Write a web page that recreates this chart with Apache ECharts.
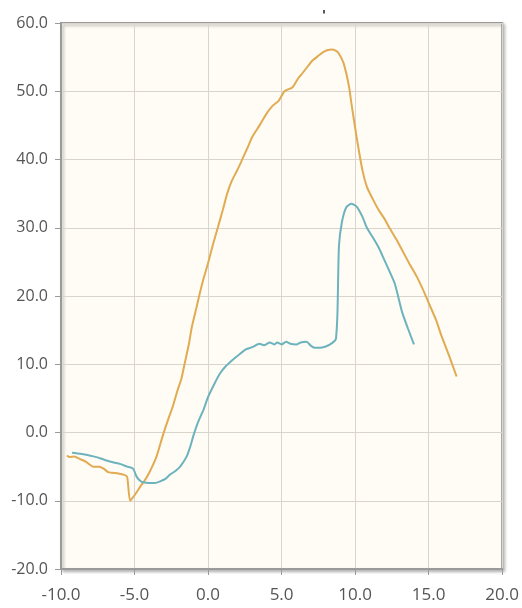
<!DOCTYPE html>
<html>
<head>
<meta charset="utf-8">
<title>Line chart</title>
<script src="https://cdn.jsdelivr.net/npm/echarts@6/dist/echarts.min.js"></script>
<style>
  html, body { margin: 0; padding: 0; background: #ffffff; }
  #chart { width: 522px; height: 608px; }
</style>
</head>
<body>
<div id="chart"></div>
<script>
// Axis ranges and tick spacing
const xRange = { min: -10, max: 20, step: 5 };
const yRange = { min: -20, max: 60, step: 10 };

// Orange curve: [x, y]
const orangeSeries = [
  [-9.6, -3.4], [-9.4, -3.6], [-9.1, -3.5], [-8.7, -3.9], [-8.3, -4.3],
  [-7.8, -5.0], [-7.4, -5.0], [-7.1, -5.3], [-6.8, -5.8], [-6.5, -5.9],
  [-6.1, -6.0], [-5.7, -6.2], [-5.5, -6.5], [-5.3, -10.0], [-5.0, -9.2],
  [-4.6, -7.9], [-4.3, -7.0], [-4.0, -5.9], [-3.5, -3.5], [-3.1, -0.6],
  [-2.7, 2.0], [-2.4, 3.8], [-2.1, 6.0], [-1.8, 8.0], [-1.58, 10.2],
  [-1.3, 13.0], [-1.1, 15.5], [-0.8, 18.2], [-0.56, 20.4], [-0.3, 22.6],
  [0.0, 24.8], [0.3, 27.3], [0.66, 30.0], [1.0, 32.6], [1.3, 35.0],
  [1.6, 36.8], [2.0, 38.5], [2.3, 39.9], [2.7, 41.8], [3.0, 43.3],
  [3.5, 45.0], [4.0, 46.8], [4.4, 47.9], [4.8, 48.6], [5.2, 50.0],
  [5.75, 50.6], [6.1, 51.8], [6.4, 52.6], [6.8, 53.7], [7.1, 54.5],
  [7.5, 55.2], [7.8, 55.7], [8.1, 56.0], [8.4, 56.1], [8.7, 55.9],
  [8.9, 55.5], [9.2, 54.2], [9.4, 52.6], [9.6, 50.5], [9.75, 48.2],
  [10.1, 43.3], [10.5, 38.4], [10.8, 36.0], [11.2, 34.2], [11.6, 32.6],
  [12.0, 31.3], [12.3, 30.1], [12.8, 28.3], [13.2, 26.7], [13.7, 24.7],
  [14.2, 22.8], [14.6, 21.0], [15.0, 19.0], [15.5, 16.5], [15.9, 14.0],
  [16.4, 11.2], [16.9, 8.2]
];

// Teal curve: [x, y]
const tealSeries = [
  [-9.25, -2.95], [-8.7, -3.1], [-8.2, -3.3], [-7.8, -3.5], [-7.3, -3.8],
  [-6.9, -4.1], [-6.4, -4.4], [-6.0, -4.6], [-5.5, -5.0], [-5.1, -5.3],
  [-4.85, -6.5], [-4.6, -7.1], [-4.4, -7.3], [-4.0, -7.4], [-3.6, -7.4],
  [-3.3, -7.2], [-2.9, -6.8], [-2.6, -6.2], [-2.2, -5.6], [-1.9, -5.0],
  [-1.45, -3.5], [-1.2, -2.0], [-1.0, -0.5], [-0.7, 1.4], [-0.3, 3.4],
  [0.0, 5.2], [0.4, 7.0], [0.8, 8.6], [1.2, 9.7], [1.7, 10.7],
  [2.1, 11.4], [2.6, 12.2], [3.0, 12.5], [3.5, 13.0], [3.8, 12.8],
  [4.2, 13.2], [4.5, 12.9], [4.7, 13.2], [5.0, 12.9], [5.3, 13.3],
  [5.6, 13.0], [6.0, 12.9], [6.3, 13.2], [6.7, 13.3], [7.0, 12.7],
  [7.3, 12.4], [7.6, 12.4], [8.0, 12.6], [8.3, 12.9], [8.6, 13.4],
  [8.7, 13.8], [8.8, 17.6], [8.9, 27.3], [9.1, 30.8], [9.4, 33.0],
  [9.75, 33.5], [10.1, 33.1], [10.5, 31.6], [10.8, 30.0], [11.2, 28.6],
  [11.6, 27.1], [11.9, 25.7], [12.3, 23.8], [12.7, 21.8], [13.2, 17.6],
  [13.6, 15.2], [14.0, 12.9]
];

const fmt = v => v.toFixed(1);

const chart = echarts.init(document.getElementById('chart'), null, { renderer: 'canvas' });

chart.setOption({
  animation: false,
  backgroundColor: '#ffffff',
  title: {
    text: "'",
    left: 317,
    top: 4,
    textStyle: { color: '#222222', fontSize: 13, fontWeight: 'bold', fontFamily: 'DejaVu Sans' }
  },
  grid: {
    left: 61,
    right: 19,
    top: 23,
    bottom: 39,
    show: true,
    backgroundColor: '#fffcf5',
    borderColor: '#9a9a9a',
    borderWidth: 2,
    shadowColor: 'rgba(0,0,0,0.25)',
    shadowBlur: 3,
    shadowOffsetX: 2,
    shadowOffsetY: 2
  },
  xAxis: {
    type: 'value',
    min: xRange.min,
    max: xRange.max,
    interval: xRange.step,
    axisLine: { show: true, onZero: false, lineStyle: { color: '#9a9a9a', width: 2 } },
    axisTick: { show: true, length: 6, lineStyle: { color: '#9a9a9a', width: 1 } },
    axisLabel: {
      margin: 18,
      color: '#555555',
      fontFamily: 'Open Sans',
      fontSize: 17,
      formatter: fmt
    },
    splitLine: { show: true, lineStyle: { color: '#d9d5cd', width: 1 } }
  },
  yAxis: {
    type: 'value',
    min: yRange.min,
    max: yRange.max,
    interval: yRange.step,
    axisLine: { show: true, onZero: false, lineStyle: { color: '#9a9a9a', width: 2 } },
    axisTick: { show: true, length: 6, lineStyle: { color: '#9a9a9a', width: 1 } },
    axisLabel: {
      margin: 13,
      color: '#555555',
      fontFamily: 'Open Sans',
      fontSize: 16,
      formatter: fmt
    },
    splitLine: { show: true, lineStyle: { color: '#d9d5cd', width: 1 } }
  },
  series: [
    {
      type: 'line',
      data: orangeSeries,
      showSymbol: false,
      smooth: 0.2,
      lineStyle: { color: '#e0ab52', width: 2 },
      itemStyle: { color: '#e0ab52' }
    },
    {
      type: 'line',
      data: tealSeries,
      showSymbol: false,
      smooth: 0.2,
      lineStyle: { color: '#6cb3bd', width: 2 },
      itemStyle: { color: '#6cb3bd' }
    }
  ]
});
</script>
</body>
</html>
